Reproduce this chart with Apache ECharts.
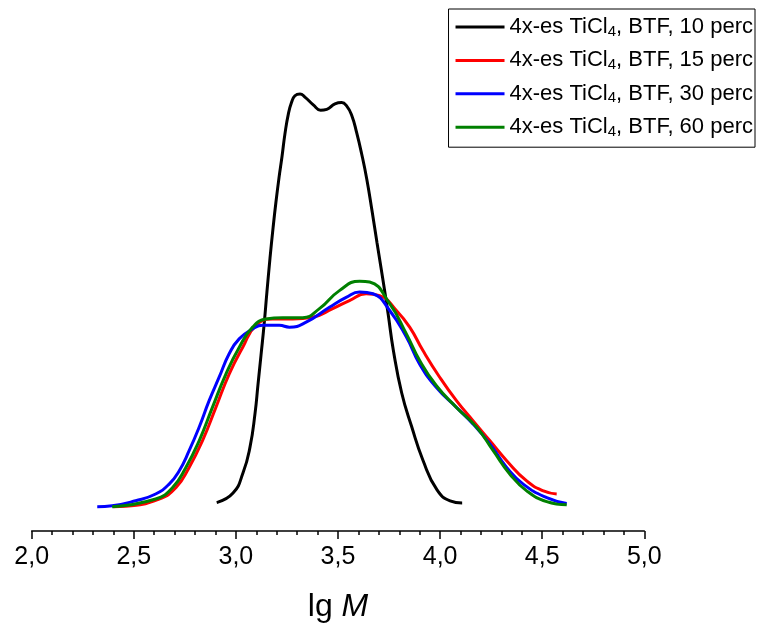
<!DOCTYPE html>
<html>
<head>
<meta charset="utf-8">
<script src="https://cdn.jsdelivr.net/npm/echarts@6/dist/echarts.min.js"></script>
<style>
  html, body { margin: 0; padding: 0; background: #fff; }
  #chart { width: 757px; height: 628px; }
</style>
</head>
<body>
<div id="chart"></div>
<script>
// lg M / relative height pairs
const perc10 = [
  [2.906, 6.3], [2.986, 8.4], [3.035, 12.9], [3.069, 18.6], [3.094, 26.2], [3.108, 32.4],
  [3.123, 39.0], [3.138, 45.7], [3.152, 53.0], [3.167, 60.5], [3.182, 67.2], [3.196, 72.9],
  [3.211, 78.3], [3.226, 83.1], [3.240, 88.0], [3.257, 92.5], [3.273, 95.1], [3.289, 96.5],
  [3.314, 96.9], [3.338, 96.2], [3.379, 94.5], [3.415, 93.3], [3.445, 93.5], [3.485, 94.7],
  [3.518, 95.0], [3.543, 94.2], [3.567, 92.2], [3.592, 88.2], [3.616, 83.6], [3.641, 78.0],
  [3.667, 70.9], [3.691, 63.9], [3.720, 55.7], [3.745, 48.3], [3.771, 40.1], [3.812, 30.6],
  [3.861, 23.1], [3.916, 15.7], [3.985, 9.1], [4.049, 6.7], [4.108, 6.2]
];
const perc15 = [
  [2.40, 5.4], [2.460, 5.5], [2.624, 7.1], [2.706, 9.6], [2.771, 14.1], [2.836, 20.0],
  [2.902, 27.4], [2.967, 34.8], [3.033, 40.7], [3.098, 45.6], [3.180, 47.0], [3.278, 47.0],
  [3.376, 47.4], [3.474, 49.3], [3.556, 51.1], [3.638, 52.6], [3.704, 52.2], [3.786, 48.9],
  [3.851, 45.2], [3.916, 40.0], [3.998, 34.1], [4.080, 28.9], [4.162, 24.4], [4.244, 20.0],
  [4.326, 15.6], [4.424, 11.1], [4.506, 8.9], [4.571, 8.2]
];
const perc30 = [
  [2.321, 5.4], [2.394, 5.6], [2.509, 6.7], [2.607, 8.2], [2.673, 10.4], [2.722, 13.3],
  [2.771, 17.8], [2.820, 23.0], [2.869, 28.9], [2.918, 34.1], [2.967, 39.3], [3.016, 42.6],
  [3.082, 44.8], [3.131, 45.6], [3.213, 45.6], [3.262, 45.2], [3.344, 46.3], [3.458, 49.6],
  [3.540, 51.8], [3.606, 53.0], [3.671, 52.6], [3.753, 48.9], [3.835, 43.0], [3.900, 37.0],
  [3.982, 31.8], [4.080, 27.4], [4.162, 23.7], [4.244, 19.3], [4.326, 14.1], [4.407, 10.4],
  [4.522, 7.4], [4.620, 6.1]
];
const perc60 = [
  [2.394, 5.4], [2.607, 7.1], [2.689, 9.6], [2.755, 14.1], [2.820, 20.0], [2.885, 27.4],
  [2.951, 34.8], [3.016, 40.7], [3.082, 45.2], [3.147, 47.0], [3.229, 47.3], [3.327, 47.3],
  [3.409, 49.3], [3.507, 53.3], [3.606, 55.4], [3.655, 55.2], [3.753, 50.4], [3.835, 43.7],
  [3.900, 37.8], [3.982, 32.2], [4.080, 27.4], [4.179, 23.0], [4.260, 17.8], [4.342, 12.6],
  [4.424, 8.9], [4.522, 6.5], [4.620, 5.8]
];

const seriesNames = ['10 perc', '15 perc', '30 perc', '60 perc'];
const seriesColors = ['#000000', '#ff0000', '#0000ff', '#008000'];
const seriesData = [perc10, perc15, perc30, perc60];

const FONT = 'Liberation Sans, Arial, sans-serif';

const chart = echarts.init(document.getElementById('chart'), null, { renderer: 'canvas' });

const option = {
  animation: false,
  textStyle: { fontFamily: FONT },
  grid: { left: 31.7, right: 112.7, top: 80, bottom: 97 },
  legend: {
    orient: 'vertical',
    right: 2,
    top: 9,
    padding: [7, 2, 8, 7],
    borderColor: '#000',
    borderWidth: 1,
    icon: 'rect',
    itemWidth: 49,
    itemHeight: 3,
    itemGap: 10.4,
    formatter: function (name) {
      return '{m|4x-es TiCl}{s|4}{m|, BTF, ' + name + '}';
    },
    textStyle: {
      color: '#000',
      rich: {
        m: { fontSize: 22, lineHeight: 24, color: '#000', fontFamily: FONT },
        s: { fontSize: 15, lineHeight: 10, verticalAlign: 'bottom', color: '#000', fontFamily: FONT }
      }
    },
    data: seriesNames
  },
  xAxis: {
    type: 'value',
    min: 2,
    max: 5,
    interval: 0.5,
    name: '{a|lg }{b|M}',
    nameLocation: 'middle',
    nameGap: 60,
    nameTextStyle: {
      rich: {
        a: { fontSize: 32, color: '#000', fontFamily: FONT },
        b: { fontSize: 32, color: '#000', fontStyle: 'italic', fontFamily: FONT }
      }
    },
    splitLine: { show: false },
    axisLine: { show: true, onZero: false, lineStyle: { color: '#000', width: 1.5 } },
    axisTick: { show: true, inside: false, length: 8, lineStyle: { color: '#000', width: 1.5 } },
    minorTick: { show: true, splitNumber: 5, length: 4, lineStyle: { color: '#000', width: 1.5 } },
    axisLabel: {
      color: '#000',
      fontSize: 25,
      margin: 14,
      formatter: function (v) { return v.toFixed(1).replace('.', ','); }
    }
  },
  yAxis: {
    type: 'value',
    min: 0,
    max: 100,
    show: false
  },
  series: seriesData.map(function (d, i) {
    return {
      name: seriesNames[i],
      type: 'line',
      data: d,
      symbol: 'none',
      smooth: 0.5,
      color: seriesColors[i],
      lineStyle: { color: seriesColors[i], width: 3 }
    };
  })
};

chart.setOption(option);
</script>
</body>
</html>
